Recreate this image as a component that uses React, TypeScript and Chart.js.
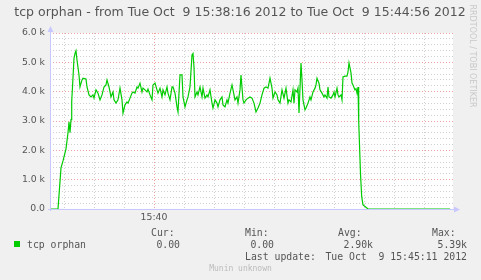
import { useEffect, useRef } from 'react';
import { Chart, registerables } from 'chart.js';

Chart.register(...registerables);

// seconds after 15:38:16
const seconds = [
  0, 8, 11, 13, 16, 18, 19, 20, 21, 21.7, 22.7, 24, 25, 26, 27, 29, 30, 32, 33, 36, 37, 39, 41, 43, 44, 46, 48,
  50, 52, 54, 56, 57, 59, 61, 63, 64, 66, 68, 70, 72, 73, 75, 77, 78, 80, 82, 83, 85, 87, 88, 90, 92, 93, 95,
  97, 98, 100, 102, 103, 105, 107, 108, 110, 112, 113, 115, 117, 118, 120, 122, 123, 125, 127, 128, 130, 132,
  133, 135, 137, 138, 140, 142, 143, 144, 145, 147, 148, 150, 152, 153, 155, 157, 158, 160, 162, 163, 165, 167,
  168, 170, 172, 173, 175, 177, 178, 180, 182, 183, 185, 187, 188, 190, 191, 193, 194, 196, 198, 200, 202, 204,
  206, 208, 210, 212, 214, 216, 218, 220, 222, 223, 225, 227, 228, 230, 232, 234, 236, 238, 239, 241, 243, 244,
  245, 247, 248, 249, 251, 252, 253, 255, 256, 258, 260, 261, 263, 265, 266, 267, 269, 270, 272, 274, 275, 277,
  278, 279, 281, 283, 284, 285, 287, 288, 289, 291, 292, 293, 295, 297, 298, 299, 301, 302, 303, 305, 306, 307,
  308, 308.7, 310.5, 311.7, 313, 316, 318, 400,
];

const orphans = [
  0, 0, 1400, 1640, 2050, 2600, 2970, 2600, 3050, 3660, 4290, 5140, 5300, 5390, 5080, 4570, 4160, 4400, 4460,
  4430, 4160, 3890, 3820, 3890, 3780, 4060, 3950, 3720, 3890, 4160, 4230, 4400, 4160, 3820, 3990, 3720, 3610,
  3720, 4120, 3720, 3270, 3550, 3650, 3610, 3780, 3950, 3990, 3950, 4160, 4120, 4290, 3990, 4120, 4060, 3990,
  4090, 3890, 3720, 4230, 4290, 4060, 3950, 4120, 3820, 4060, 3890, 4160, 3950, 3720, 4160, 4160, 3950, 3480,
  3310, 4570, 4570, 3820, 3480, 3720, 3820, 4160, 5250, 5300, 4840, 3820, 3990, 3890, 4160, 3820, 4120, 3780,
  3890, 3820, 4060, 3610, 3440, 3720, 3610, 3480, 3720, 3820, 3550, 3480, 3720, 3610, 3950, 4230, 4060, 3720,
  3820, 3610, 4060, 4570, 3720, 3610, 3720, 3780, 3820, 3780, 3610, 3310, 3440, 3610, 3890, 4120, 4160, 4120,
  4460, 4120, 3780, 3990, 3890, 3720, 3610, 4060, 3780, 4120, 3610, 3720, 3650, 4060, 3610, 4060, 3990, 4120,
  3270, 4980, 4400, 3720, 3380, 3440, 3610, 3820, 3720, 3990, 4120, 4230, 4460, 4290, 4060, 3950, 3820, 3890,
  3780, 4160, 3820, 3780, 3890, 3990, 3820, 4120, 3890, 3820, 3890, 3720, 4500, 4530, 4530, 4670, 4980, 4640,
  4290, 4230, 4060, 4100, 3950, 4160, 3000, 1200, 420, 140, 60, 0, 0,
];

const xGridSeconds = [14, 44, 74, 104, 134, 164, 194, 224, 254, 284, 314, 344, 374];
const xLabelSeconds = [104];
const xLabels = ['15:40'];
const xMaxSeconds = 403;
const yMax = 6000;
const yStep = 200;
const yMajor = 1000;

const titleText = 'tcp orphan - from Tue Oct  9 15:38:16 2012 to Tue Oct  9 15:44:56 2012';
const seriesName = 'tcp orphan';
const statHeaders = ['Cur:', 'Min:', 'Avg:', 'Max:'];
const statValues = ['0.00', '0.00', '2.90k', '5.39k'];
const lastUpdateLabel = 'Last update:';
const lastUpdateValue = 'Tue Oct  9 15:45:11 2012';
const footerText = 'Munin unknown';
const watermark = 'RRDTOOL / TOBI OETIKER';

const GREEN = '#00cc00';
const TEXT = '#555555';
const AXIS = '#c8c8ff';
const MONO = '"DejaVu Sans Mono", monospace';
const SANS = '"DejaVu Sans", sans-serif';

export default function App() {
  const ref = useRef<HTMLCanvasElement>(null);

  useEffect(() => {
    document.body.style.margin = '0';
    const canvas = ref.current!;

    const decor = {
      id: 'munin',
      beforeDraw(chart: any) {
        const { ctx, chartArea: a } = chart;
        ctx.save();
        ctx.fillStyle = '#f0f0f0';
        ctx.fillRect(0, 0, chart.width, chart.height);
        ctx.fillStyle = '#ffffff';
        ctx.fillRect(a.left, a.top, a.right - a.left, a.bottom - a.top);
        ctx.restore();
      },
      afterDraw(chart: any) {
        const { ctx, chartArea: a } = chart;
        ctx.save();
        // axes
        ctx.strokeStyle = AXIS;
        ctx.fillStyle = AXIS;
        ctx.lineWidth = 1;
        ctx.beginPath();
        ctx.moveTo(a.left + 0.5, a.top - 2);
        ctx.lineTo(a.left + 0.5, a.bottom + 2);
        ctx.moveTo(a.left - 2, a.bottom + 0.5);
        ctx.lineTo(a.right + 2, a.bottom + 0.5);
        ctx.stroke();
        ctx.beginPath();
        ctx.moveTo(a.left - 2.5, a.top - 1);
        ctx.lineTo(a.left + 3.5, a.top - 1);
        ctx.lineTo(a.left + 0.5, a.top - 7);
        ctx.closePath();
        ctx.fill();
        ctx.beginPath();
        ctx.moveTo(a.right + 1, a.bottom - 2.5);
        ctx.lineTo(a.right + 1, a.bottom + 3.5);
        ctx.lineTo(a.right + 7, a.bottom + 0.5);
        ctx.closePath();
        ctx.fill();

        ctx.textBaseline = 'middle';
        // title
        ctx.fillStyle = TEXT;
        ctx.font = `12.5px ${SANS}`;
        ctx.textAlign = 'center';
        ctx.fillText(titleText, 240, 13);

        // watermark
        ctx.save();
        ctx.translate(472, 56);
        ctx.rotate(Math.PI / 2);
        ctx.fillStyle = '#c8c8c8';
        ctx.font = `8px ${SANS}`;
        ctx.fillText(watermark, 0, 0);
        ctx.restore();

        // legend
        ctx.font = `9.8px ${MONO}`;
        ctx.fillStyle = GREEN;
        ctx.fillRect(14, 241, 6, 6);
        ctx.fillStyle = TEXT;
        ctx.textAlign = 'left';
        ctx.fillText(seriesName, 27, 245);
        const headX = [151, 245, 338, 432];
        const valX = [180, 274, 373, 467];
        statHeaders.forEach((h, i) => {
          ctx.textAlign = 'left';
          ctx.fillText(h, headX[i], 233);
          ctx.textAlign = 'right';
          ctx.fillText(statValues[i], valX[i], 245);
        });
        ctx.textAlign = 'left';
        ctx.fillText(lastUpdateLabel, 245, 257);
        ctx.textAlign = 'right';
        ctx.fillText(lastUpdateValue, 467, 257);

        ctx.textAlign = 'center';
        ctx.fillStyle = '#bbbbbb';
        ctx.font = `8px ${MONO}`;
        ctx.fillText(footerText, 240.5, 269);
        ctx.restore();
      },
    };

    const chart = new Chart(canvas, {
      type: 'line',
      data: {
        datasets: [
          {
            label: seriesName,
            data: seconds.map((s, i) => ({ x: s, y: orphans[i] })),
            borderColor: GREEN,
            borderWidth: 1.2,
            pointRadius: 0,
            tension: 0,
            fill: false,
          },
        ],
      },
      options: {
        animation: false,
        responsive: false,
        devicePixelRatio: 1,
        layout: { padding: { top: 33, right: 28, bottom: 0, left: 0 } },
        plugins: { legend: { display: false }, title: { display: false }, tooltip: { enabled: false } },
        scales: {
          x: {
            type: 'linear',
            min: 0,
            max: xMaxSeconds,
            afterBuildTicks: (scale: any) => {
              scale.ticks = xGridSeconds.map((v) => ({ value: v }));
            },
            afterFit: (scale: any) => {
              scale.height = 71;
            },
            grid: {
              drawTicks: false,
              lineWidth: 1,
              color: (c: any) =>
                xLabelSeconds.includes(c.tick?.value) ? 'rgba(235,120,120,0.7)' : 'rgba(150,150,150,0.45)',
            },
            border: { display: false, dash: [1, 2] },
            ticks: {
              autoSkip: false,
              maxRotation: 0,
              padding: 3,
              color: TEXT,
              font: { family: SANS, size: 9.3 },
              callback: (v: any) => {
                const k = xLabelSeconds.indexOf(Number(v));
                return k >= 0 ? xLabels[k] : '';
              },
            },
          },
          y: {
            type: 'linear',
            min: 0,
            max: yMax,
            afterFit: (scale: any) => {
              scale.width = 50;
            },
            grid: {
              drawTicks: false,
              lineWidth: 1,
              color: (c: any) =>
                c.tick && c.tick.value % yMajor === 0 ? 'rgba(235,120,120,0.7)' : 'rgba(150,150,150,0.45)',
            },
            border: { display: false, dash: [1, 2] },
            ticks: {
              stepSize: yStep,
              autoSkip: false,
              padding: 5,
              color: TEXT,
              font: { family: SANS, size: 9.3 },
              callback: (v: any) => {
                const n = Number(v);
                if (n % yMajor !== 0) return '';
                return n === 0 ? '0.0' : (n / 1000).toFixed(1) + ' k';
              },
            },
          },
        },
      },
      plugins: [decor],
    } as any);

    return () => chart.destroy();
  }, []);

  return <canvas ref={ref} width={481} height={280} style={{ display: 'block' }} />;
}
